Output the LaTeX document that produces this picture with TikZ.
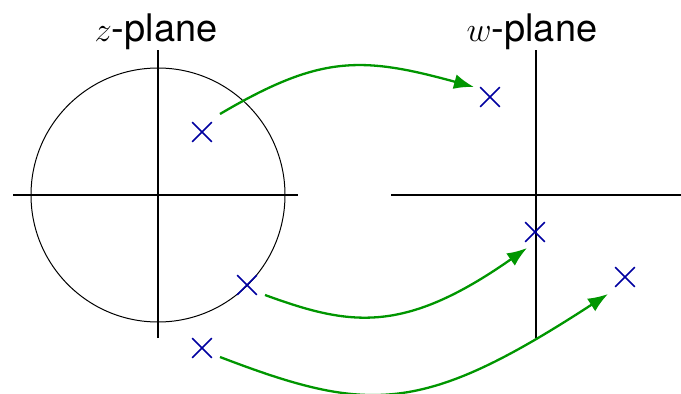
\documentclass[tikz,border=0pt]{standalone}
\usepackage{fontspec}
\setmainfont{TeX Gyre Heros}
\usetikzlibrary{arrows.meta,shapes.misc}
\definecolor{arrgreen}{RGB}{0,150,0}
\definecolor{crossblue}{RGB}{0,0,160}
\begin{document}
\begin{tikzpicture}[x=0.5pt,y=0.5pt,
  axis/.style={line width=1pt,black},
  xmark/.style={cross out,draw=crossblue,line width=0.8pt,minimum size=9pt,inner sep=0pt},
  maparrow/.style={arrgreen,line width=1.15pt,-{Latex[length=10pt,width=7.5pt]}},
  planelabel/.style={anchor=base,font=\fontsize{19}{23}\selectfont,inner sep=0pt}]
\useasboundingbox (0,0) rectangle (681,393);

% z-plane
\coordinate (zL) at (13,198);
\coordinate (zR) at (298,198);
\coordinate (zT) at (158,343);
\coordinate (zB) at (158,55);
\coordinate (zO) at (158,198);
\draw[axis] (zL) -- (zR);
\draw[axis] (zB) -- (zT);
\draw[line width=0.5pt] (zO) circle[radius=127];
\node[planelabel] (zlab) at (156,352) {$z$-plane};

% w-plane
\coordinate (wL) at (391,198);
\coordinate (wR) at (681,198);
\coordinate (wT) at (536,343);
\coordinate (wB) at (536,55);
\draw[axis] (wL) -- (wR);
\draw[axis] (wB) -- (wT);
\node[planelabel] (wlab) at (532,352) {$w$-plane};

% points
\node[xmark] (z1) at (202,261) {};
\node[xmark] (z2) at (247,108) {};
\node[xmark] (z3) at (202,45) {};
\node[xmark] (w1) at (490,296) {};
\node[xmark] (w2) at (535,161) {};
\node[xmark] (w3) at (625,116) {};

% arrow ends
\coordinate (a1s) at (220,279);
\coordinate (a1e) at (474,306);
\coordinate (a2s) at (265,98);
\coordinate (a2e) at (527,145);
\coordinate (a3s) at (220,36);
\coordinate (a3e) at (608,99);

\draw[maparrow] (a1s) .. controls (320,338) and (361,337) .. (a1e);
\draw[maparrow] (a2s) .. controls (349.6,67.2) and (403,58) .. (a2e);
\draw[maparrow] (a3s) .. controls (369,-21) and (422,-22) .. (a3e);
\end{tikzpicture}
\end{document}
